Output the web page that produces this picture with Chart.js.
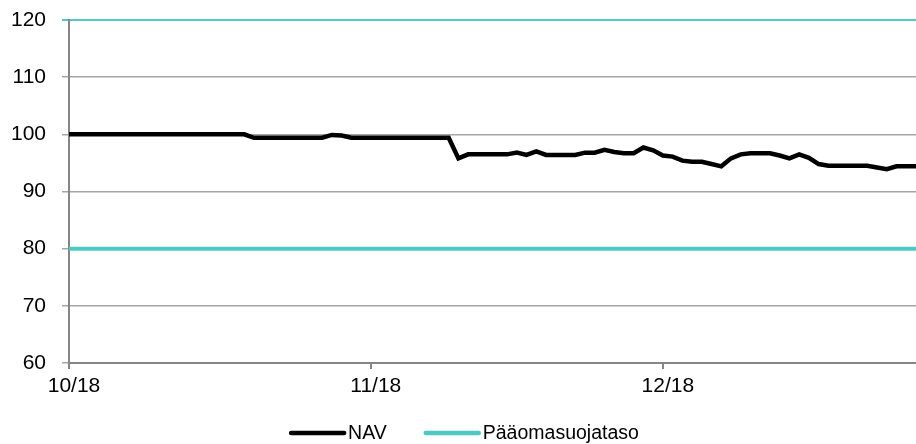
<!DOCTYPE html>
<html>
<head>
<meta charset="utf-8">
<script src="https://cdn.jsdelivr.net/npm/chart.js@4/dist/chart.umd.min.js"></script>
<style>
  html, body { margin: 0; padding: 0; background: #fff; }
  #wrap { width: 916px; height: 444px; }
</style>
</head>
<body>
<div id="wrap"><canvas id="navChart"></canvas></div>
<script>
// days counted from 1 Oct 2018
const monthTickDays = [0, 31, 61];
const monthTickLabels = ['10/18', '11/18', '12/18'];

const navValues = [
  100, 100, 100, 100, 100, 100, 100, 100, 100, 100,
  100, 100, 100, 100, 100, 100, 100, 100, 100, 99.4,
  99.4, 99.4, 99.4, 99.4, 99.4, 99.4, 99.4, 99.9, 99.8, 99.4,
  99.4, 99.4, 99.4, 99.4, 99.4, 99.4, 99.4, 99.4, 99.4, 99.4,
  95.8, 96.5, 96.5, 96.5, 96.5, 96.5, 96.8, 96.4, 97.0, 96.4,
  96.4, 96.4, 96.4, 96.8, 96.8, 97.3, 96.9, 96.7, 96.7, 97.7,
  97.2, 96.3, 96.1, 95.4, 95.2, 95.2, 94.8, 94.4, 95.8, 96.5,
  96.7, 96.7, 96.7, 96.3, 95.8, 96.5, 95.9, 94.8, 94.5, 94.5,
  94.5, 94.5, 94.5, 94.2, 93.9, 94.4, 94.4, 94.4
];

const protectionDays = [0, 87];
const protectionValues = [80, 80];

const teal = '#4ecac4';
const gridGray = '#a6a6a6';
const axisGray = '#868686';

// legend drawn by hand so the line samples and gaps match the original
const lineLegend = {
    id: 'lineLegend',
    afterDraw(chart) {
        const c = chart.ctx;
        const lineLen = 57, gap = 2, spacing = 37, y = 433;
        c.save();
        c.font = '19.5px "Liberation Sans"';
        c.textBaseline = 'middle';
        const items = chart.data.datasets.map(ds => ({
            text: ds.label,
            color: ds.borderColor,
            w: lineLen + gap + c.measureText(ds.label).width
        }));
        const total = items.reduce((s, it) => s + it.w, 0) + spacing * (items.length - 1);
        let x = chart.width / 2 + 6 - total / 2;
        items.forEach(it => {
            c.strokeStyle = it.color;
            c.lineWidth = 4.5;
            c.lineCap = 'round';
            c.beginPath();
            c.moveTo(x + 2, y);
            c.lineTo(x + lineLen - 2, y);
            c.stroke();
            c.fillStyle = '#000';
            c.fillText(it.text, x + lineLen + gap, y + 1);
            x += it.w + spacing;
        });
        c.restore();
    }
};

const ctx = document.getElementById('navChart').getContext('2d');
const navChart = new Chart(ctx, {
    type: 'line',
    data: {
        datasets: [{
            label: 'NAV',
            data: navValues.map((v, i) => ({x: i, y: v})),
            borderColor: '#000',
            backgroundColor: '#000',
            borderWidth: 4.5,
            pointRadius: 0,
            tension: 0
        }, {
            label: 'Pääomasuojataso',
            data: protectionDays.map((d, i) => ({x: d, y: protectionValues[i]})),
            borderColor: teal,
            backgroundColor: teal,
            borderWidth: 4,
            pointRadius: 0
        }]
    },
    plugins: [lineLegend],
    options: {
        responsive: true,
        maintainAspectRatio: false,
        animation: false,
        layout: { padding: { top: 20, right: 0, bottom: 0, left: 0 } },
        plugins: {
            tooltip: { enabled: false },
            legend: { display: false }
        },
        scales: {
            x: {
                type: 'linear',
                min: 0,
                max: 87,
                afterBuildTicks: scale => {
                    scale.ticks = monthTickDays.map(d => ({value: d}));
                },
                afterFit: scale => { scale.height = 81; },
                ticks: {
                    color: '#000',
                    font: { family: 'Liberation Sans', size: 21 },
                    padding: 5,
                    labelOffset: 5,
                    maxRotation: 0,
                    callback: value => monthTickLabels[monthTickDays.indexOf(value)]
                },
                grid: {
                    drawOnChartArea: false,
                    color: axisGray,
                    tickLength: 6,
                    lineWidth: 2
                },
                border: { color: axisGray, width: 2 }
            },
            y: {
                min: 60,
                max: 120,
                afterFit: scale => {
                    scale.width = 69;
                    scale.paddingTop = 0;
                    scale.paddingBottom = 0;
                },
                ticks: {
                    stepSize: 10,
                    color: '#000',
                    font: { family: 'Liberation Sans', size: 21 },
                    padding: 16
                },
                grid: {
                    color: c => c.tick && c.tick.value === 120 ? teal : gridGray,
                    lineWidth: c => c.tick && c.tick.value === 120 ? 2 : 1.5,
                    tickLength: 7
                },
                border: { color: axisGray, width: 2 }
            }
        }
    }
});
</script>
</body>
</html>
